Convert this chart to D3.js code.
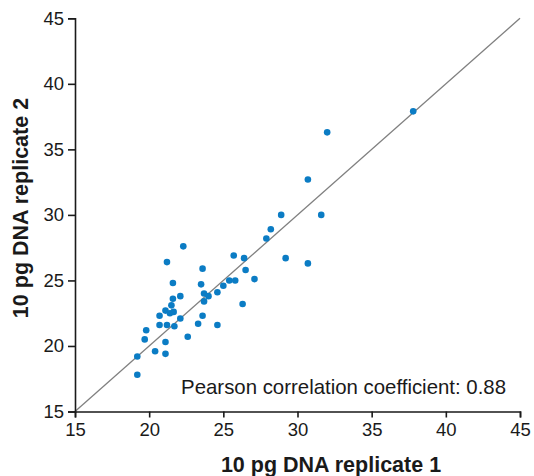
<!DOCTYPE html>
<html>
<head>
<meta charset="utf-8">
<script src="https://cdn.jsdelivr.net/npm/d3@7"></script>
<style>
  html, body { margin: 0; padding: 0; background: #fff; }
  svg { display: block; font-family: "Liberation Sans", Arial, Helvetica, sans-serif; }
</style>
</head>
<body>
<svg id="chart" width="534" height="476"></svg>
<script>
// Ct values for paired replicates (replicate 1, replicate 2)
const replicate1 = [37.8, 32.0, 30.7, 28.9, 31.6, 28.2, 27.9, 29.2, 30.7, 25.7,
                    26.4, 26.5, 25.0, 25.4, 25.8, 27.1, 24.6, 26.3, 24.6, 22.3,
                    21.2, 23.6, 21.6, 23.5, 22.1, 23.7, 24.0, 21.6, 23.7, 21.5,
                    21.1, 21.4, 21.65, 20.7, 22.1, 23.6, 20.7, 21.2, 21.7, 23.3,
                    19.8, 19.7, 22.6, 21.1, 20.4, 21.1, 19.2, 19.2];
const replicate2 = [37.9, 36.3, 32.7, 30.0, 30.0, 28.9, 28.2, 26.7, 26.3, 26.9,
                    26.7, 25.8, 24.6, 25.0, 25.0, 25.1, 24.1, 23.2, 21.6, 27.6,
                    26.4, 25.9, 24.8, 24.7, 23.8, 24.0, 23.8, 23.6, 23.4, 23.1,
                    22.7, 22.5, 22.6, 22.3, 22.1, 22.3, 21.6, 21.6, 21.5, 21.7,
                    21.2, 20.5, 20.7, 20.3, 19.6, 19.4, 19.2, 17.8];
const axisTicks = [15, 20, 25, 30, 35, 40, 45];
const xTitle = "10 pg DNA replicate 1";
const yTitle = "10 pg DNA replicate 2";
const pearsonLabel = "Pearson correlation coefficient: 0.88";

const svg = d3.select("#chart");
const x = d3.scaleLinear().domain([15, 45]).range([75, 520]);
const y = d3.scaleLinear().domain([15, 45]).range([411.5, 18.3]);

// identity line y = x
svg.append("line")
  .attr("x1", x(15)).attr("y1", y(15))
  .attr("x2", x(45)).attr("y2", y(45))
  .attr("stroke", "#808080").attr("stroke-width", 1.3);

// axes
const xAxis = svg.append("g")
  .attr("transform", `translate(0,${y(15)})`)
  .call(d3.axisBottom(x).tickValues(axisTicks).tickSize(6).tickPadding(5).tickSizeOuter(6));
const yAxis = svg.append("g")
  .attr("transform", `translate(${x(15)},0)`)
  .call(d3.axisLeft(y).tickValues(axisTicks).tickSize(7).tickPadding(4).tickSizeOuter(7));

[xAxis, yAxis].forEach(g => {
  g.select(".domain").attr("stroke", "#1a1a1a").attr("stroke-width", 1.6);
  g.selectAll(".tick line").attr("stroke", "#1a1a1a").attr("stroke-width", 1.6);
  g.selectAll(".tick text")
    .attr("fill", "#1a1a1a")
    .style("font-size", "18.5px")
    .style("font-family", "'Liberation Sans', Arial, sans-serif");
});

// points
svg.append("g").selectAll("circle")
  .data(replicate1.map((v, i) => [v, replicate2[i]]))
  .join("circle")
  .attr("cx", d => x(d[0]))
  .attr("cy", d => y(d[1]))
  .attr("r", 3.3)
  .attr("fill", "#0b7cc4");

// correlation annotation
svg.append("text")
  .attr("x", 506).attr("y", 394)
  .attr("text-anchor", "end")
  .attr("fill", "#1a1a1a")
  .style("font-size", "20.4px")
  .text(pearsonLabel);

// axis titles
svg.append("text")
  .attr("x", 331).attr("y", 472)
  .attr("text-anchor", "middle")
  .attr("fill", "#1a1a1a")
  .style("font-size", "21.5px").style("font-weight", "bold")
  .text(xTitle);

svg.append("text")
  .attr("transform", `translate(28,${208}) rotate(-90)`)
  .attr("text-anchor", "middle")
  .attr("fill", "#1a1a1a")
  .style("font-size", "21.5px").style("font-weight", "bold")
  .text(yTitle);
</script>
</body>
</html>
